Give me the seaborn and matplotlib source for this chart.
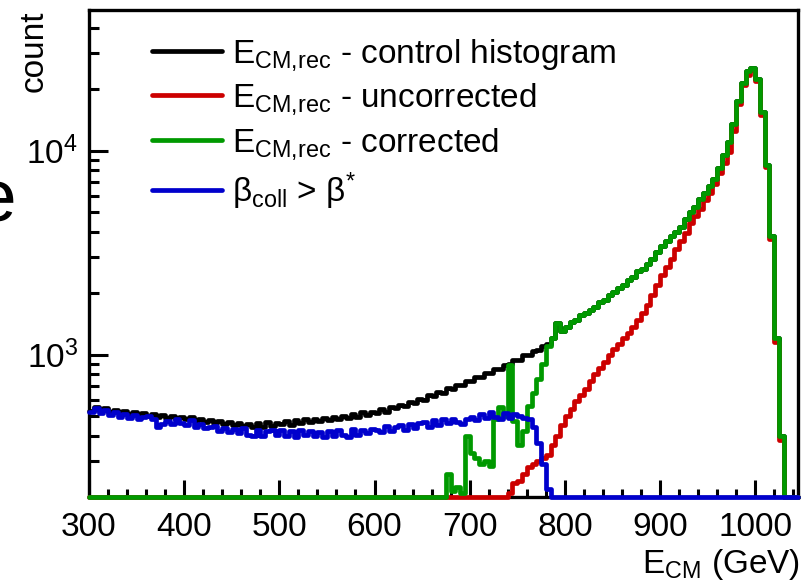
import numpy as np
import matplotlib
matplotlib.use('Agg')
import matplotlib.pyplot as plt
import seaborn as sns
from matplotlib.ticker import MultipleLocator

# 5 GeV bins from 300 to 1045 GeV
bin_edges = np.arange(300, 1050, 5)

# control histogram, 300-780 GeV (above 785 it lies under the corrected one)
control_low = [
    530, 555, 530, 545, 520, 535, 515, 530, 510, 525,
    505, 515, 500, 510, 495, 505, 490, 500, 485, 495,
    480, 495, 470, 485, 465, 475, 460, 470, 455, 465,
    450, 460, 445, 455, 440, 460, 440, 465, 445, 460,
    455, 470, 450, 475, 460, 480, 465, 485, 470, 490,
    475, 495, 480, 500, 490, 510, 495, 520, 505, 525,
    515, 540, 525, 550, 545, 565, 560, 585, 580, 605,
    600, 630, 625, 655, 650, 685, 675, 710, 705, 740,
    740, 775, 780, 815, 815, 850, 850, 885, 895, 935,
    945, 990, 995, 1045, 1055, 1105, 1130,
]

# corrected, 675-1025 GeV (zero elsewhere)
corrected_mid = [
    260, 215, 225, 210, 400,
    330, 310, 290, 300, 285, 480, 550, 500, 890, 470,
    360, 420, 560, 650, 760, 900, 1100, 1200, 1430, 1300,
    1360, 1440, 1470, 1560, 1590, 1660, 1710, 1810, 1860, 1960,
    2020, 2110, 2190, 2310, 2400, 2560, 2640, 2770, 2950, 3200,
    3400, 3600, 3800, 4000, 4200, 4600, 5000, 5300, 5800, 6200,
    6700, 7300, 8200, 9500, 11000, 13500, 17500, 21500, 24500, 25500,
    22500, 15500, 8500, 3800, 1200, 400,
]

# uncorrected, 740-1025 GeV (zero elsewhere)
uncorrected_mid = [
    210, 235, 240, 260, 280, 290, 300, 310, 320, 360,
    400, 450, 500, 540, 590, 630, 680, 740, 800, 860,
    920, 990, 1060, 1120, 1200, 1280, 1370, 1480, 1600, 1750,
    1950, 2200, 2450, 2700, 2950, 3300, 3600, 3950, 4400, 4800,
    5200, 5700, 6200, 6900, 7800, 8700, 9800, 12500, 17000, 21000,
    23500, 25000, 22000, 15000, 8300, 3700, 1150, 380,
]

# beta_coll > beta*, 300-780 GeV (zero above)
beta_low = [
    520, 545, 515, 535, 505, 520, 495, 510, 490, 505,
    485, 495, 500, 480, 440, 455, 470, 455, 480, 460,
    450, 475, 440, 455, 435, 440, 445, 420, 435, 415,
    430, 410, 435, 405, 400, 425, 400, 420, 425, 405,
    425, 400, 420, 395, 425, 405, 420, 400, 415, 395,
    420, 400, 425, 405, 395, 430, 405, 425, 410, 430,
    425, 415, 445, 420, 440, 450, 425, 455, 435, 460,
    465, 440, 475, 450, 480, 460, 485, 465, 455, 480,
    495, 475, 510, 490, 525, 495, 480, 515, 490, 510,
    500, 490, 480, 440, 370, 290, 220,
]

labels = [
    r'E$_{\mathrm{CM{,}rec}}$ - control histogram',
    r'E$_{\mathrm{CM{,}rec}}$ - uncorrected',
    r'E$_{\mathrm{CM{,}rec}}$ - corrected',
    'β$_{\mathrm{coll}}$ > β$^{*}$',
]
colors = ['#000000', '#cc0000', '#009900', '#0000cc']

Y_MIN, Y_MAX = 200, 49000


def full_series(values, start, n_bins):
    out = np.zeros(n_bins)
    out[start:start + len(values)] = values
    return out


def main():
    n_bins = len(bin_edges) - 1
    corrected = full_series(corrected_mid, 75, n_bins)
    uncorrected = full_series(uncorrected_mid, 88, n_bins)
    beta = full_series(beta_low, 0, n_bins)
    control = corrected.copy()
    control[:len(control_low)] = control_low

    sns.set_theme(style='ticks')
    plt.rcParams['font.family'] = ['Liberation Sans', 'DejaVu Sans']
    plt.rcParams['mathtext.fontset'] = 'custom'
    plt.rcParams['mathtext.rm'] = 'Liberation Sans'
    plt.rcParams['mathtext.it'] = 'Liberation Sans:italic'
    for key in ['text.color', 'axes.labelcolor', 'xtick.color', 'ytick.color',
                'axes.edgecolor']:
        plt.rcParams[key] = 'black'

    fig = plt.figure(figsize=(8.02, 5.84), dpi=100)
    ax = fig.add_axes([89 / 802, 1 - 497 / 584, (798 - 89) / 802, 487 / 584])

    for vals, col, lab in zip([control, uncorrected, corrected, beta], colors, labels):
        y = np.maximum(np.append(vals, vals[-1]), Y_MIN)
        sns.lineplot(x=bin_edges, y=y, ax=ax, color=col, lw=3.4, label=lab,
                     drawstyle='steps-post', estimator=None, sort=False,
                     zorder=3, clip_on=False, legend=False)

    ax.set_yscale('log')
    ax.set_xlim(300, 1045)
    ax.set_ylim(Y_MIN, Y_MAX)
    ax.xaxis.set_major_locator(MultipleLocator(100))
    ax.xaxis.set_minor_locator(MultipleLocator(20))

    ax.tick_params(axis='both', which='both', direction='in', width=2.2,
                   labelsize=24, top=False, right=False, colors='black')
    ax.tick_params(axis='x', which='major', length=12, pad=11)
    ax.tick_params(axis='x', which='minor', length=6)
    ax.tick_params(axis='y', which='major', length=14, pad=8)
    ax.tick_params(axis='y', which='minor', length=7)
    for sp in ax.spines.values():
        sp.set_linewidth(2.4)
        sp.set_color('black')
        sp.set_visible(True)

    ax.set_ylabel('count', fontsize=24, loc='top', color='black')
    ax.yaxis.set_label_coords(-0.055, 1.0)
    fig.text(800 / 802, 1 - 573 / 584, r'E$_{\mathrm{CM}}$ (GeV)', fontsize=24,
             ha='right', va='baseline', color='black')
    # clipped letter at the left edge
    fig.text(16 / 802, 1 - 221 / 584, 'e', fontsize=54, ha='right', va='baseline',
             color='black')

    leg = ax.legend(loc='upper left', bbox_to_anchor=(0.0886, 0.945), frameon=False,
                    fontsize=24, handlelength=2.12, handletextpad=0.3,
                    borderpad=0, borderaxespad=0, labelspacing=0.26)
    for t in leg.get_texts():
        t.set_color('black')

    fig.savefig('out.png', dpi=100)
    plt.close(fig)


if __name__ == '__main__':
    main()
